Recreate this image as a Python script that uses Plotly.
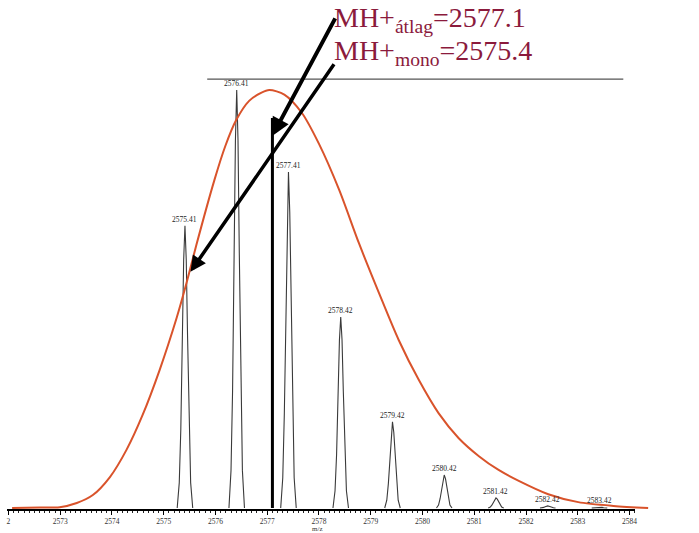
import plotly.graph_objects as go

# ---- data ----
peak_mz = [2575.41, 2576.41, 2577.41, 2578.42, 2579.42, 2580.42, 2581.42, 2582.42, 2583.42]
peak_int = [67.5, 100.0, 80.4, 45.7, 20.6, 7.9, 2.4, 0.5, 0.25]
peak_labels = ["2575.41", "2576.41", "2577.41", "2578.42", "2579.42",
               "2580.42", "2581.42", "2582.42", "2583.42"]

env_mz = [2572.07, 2572.61, 2572.99, 2573.32, 2573.63, 2573.96, 2574.28, 2574.59,
          2574.92, 2575.25, 2575.44, 2575.63, 2575.98, 2576.19, 2576.40, 2576.65,
          2576.88, 2577.04, 2577.33, 2577.67, 2578.00, 2578.39, 2578.77, 2579.16,
          2579.54, 2579.93, 2580.31, 2580.70, 2581.09, 2581.47, 2581.86, 2582.43,
          2583.01, 2583.69, 2584.36]
env_int = [0.0, 0.1, 0.2, 1.2, 3.1, 7.4, 13.9, 22.2, 33.0, 45.5, 53.8, 62.9, 78.5,
           86.6, 92.8, 97.4, 99.3, 100.0, 98.9, 94.5, 87.1, 76.1, 63.4, 51.4, 40.2,
           30.6, 22.7, 16.7, 12.4, 9.1, 6.5, 3.3, 1.4, 0.5, 0.0]

avg_mass = 2577.1
mono_mass = 2575.4
avg_line_int = 93.3
ref_line_int = 102.6
ref_line_x = [2575.84, 2583.88]

tick_vals = list(range(2572, 2585))
tick_text = ["2"] + [str(v) for v in range(2573, 2585)]

# peak profile template (relative offset in m/z, fraction of height)
PROFILE_DX = [-0.15, -0.11, -0.08, -0.05, -0.025, 0.0, 0.025, 0.05, 0.08, 0.11, 0.15]
PROFILE_FR = [0.0, 0.09, 0.28, 0.61, 0.88, 1.0, 0.88, 0.61, 0.28, 0.09, 0.0]

px_x, px_y = [], []
for c, h in zip(peak_mz, peak_int):
    px_x += [c + d for d in PROFILE_DX] + [None]
    px_y += [h * f for f in PROFILE_FR] + [None]

W, H = 699, 533
B = 24
PH = H - B  # plot-area height
PXU = 51.9  # pixels per m/z unit
X0, X1 = 2571.836, 2571.836 + W / PXU
Y0, Y1 = -0.24, 121.53
AX_L, AX_R = 7, 637  # axis line extent in pixels


def py(pix):
    """pixel from top -> paper y of the plot area"""
    return 1 - pix / PH


fig = go.Figure()
fig.add_trace(go.Scatter(x=px_x, y=px_y, mode="lines",
                         line=dict(color="#3a3a3a", width=1.1),
                         hoverinfo="skip", showlegend=False))
fig.add_trace(go.Scatter(x=env_mz, y=env_int, mode="lines",
                         line=dict(color="#D9532B", width=2, shape="spline", smoothing=0.8),
                         hoverinfo="skip", showlegend=False))
# dummy trace to create the visible axis subplot
fig.add_trace(go.Scatter(x=[2578], y=[0], xaxis="x2", yaxis="y", mode="markers",
                         marker=dict(opacity=0), hoverinfo="skip", showlegend=False))

# average mass line
fig.add_shape(type="line", xref="x", yref="y", x0=avg_mass, x1=avg_mass,
              y0=0, y1=avg_line_int, line=dict(color="black", width=3))
# horizontal reference line
fig.add_shape(type="line", xref="x", yref="y", x0=ref_line_x[0], x1=ref_line_x[1],
              y0=ref_line_int, y1=ref_line_int, line=dict(color="#555555", width=1.2))

ann = []
for c, h, t in zip(peak_mz, peak_int, peak_labels):
    ann.append(dict(x=c, y=h, xref="x", yref="y", text=t, showarrow=False,
                    yanchor="bottom", yshift=0,
                    font=dict(family="Liberation Serif", size=7.5, color="#222222")))

# arrows
ann.append(dict(x=2577.096, y=89.0, ax=2578.329, ay=117.5, xref="x", yref="y",
                axref="x", ayref="y", text="", showarrow=True, arrowhead=2,
                arrowsize=0.9, arrowwidth=4, arrowcolor="black"))
ann.append(dict(x=2575.516, y=56.5, ax=2578.310, ay=106.5, xref="x", yref="y",
                axref="x", ayref="y", text="", showarrow=True, arrowhead=2,
                arrowsize=0.9, arrowwidth=3.5, arrowcolor="black"))

title_font = dict(family="Liberation Serif", size=28, color="#8B1A3C")
ann.append(dict(x=333 / W, y=py(0), xref="paper", yref="paper", xanchor="left",
                yanchor="top", showarrow=False, font=title_font,
                text="MH+<sub>átlag</sub>=2577.1"))
ann.append(dict(x=333 / W, y=py(33), xref="paper", yref="paper", xanchor="left",
                yanchor="top", showarrow=False, font=title_font,
                text="MH+<sub>mono</sub>=2575.4"))
ann.append(dict(x=318 / W, y=py(529), xref="paper", yref="paper", xanchor="center",
                yanchor="middle", showarrow=False, text="m/z",
                font=dict(family="Liberation Serif", size=7, color="#333333")))

fig.update_layout(
    width=W, height=H,
    margin=dict(l=0, r=0, t=0, b=B),
    paper_bgcolor="white", plot_bgcolor="rgba(0,0,0,0)",
    showlegend=False,
    xaxis=dict(domain=[0, 1], range=[X0, X1], visible=False, fixedrange=True),
    xaxis2=dict(domain=[AX_L / W, AX_R / W], anchor="y",
                range=[X0 + AX_L / PXU, X0 + AX_R / PXU],
                showline=True, linecolor="black", linewidth=1.5,
                tickvals=tick_vals, ticktext=tick_text,
                ticks="outside", ticklen=4, tickcolor="black", tickwidth=1,
                tickfont=dict(family="Liberation Serif", size=7.5, color="#333333"),
                minor=dict(dtick=0.1, ticks="outside", ticklen=2, tickcolor="#222222",
                           showgrid=False),
                showgrid=False, zeroline=False, fixedrange=True),
    yaxis=dict(range=[Y0, Y1], visible=False, fixedrange=True),
    annotations=ann,
)

fig.write_html("out.html",
               config={"displayModeBar": False, "staticPlot": True},
               post_script="document.body.style.margin='0';document.body.style.overflow='hidden';")
